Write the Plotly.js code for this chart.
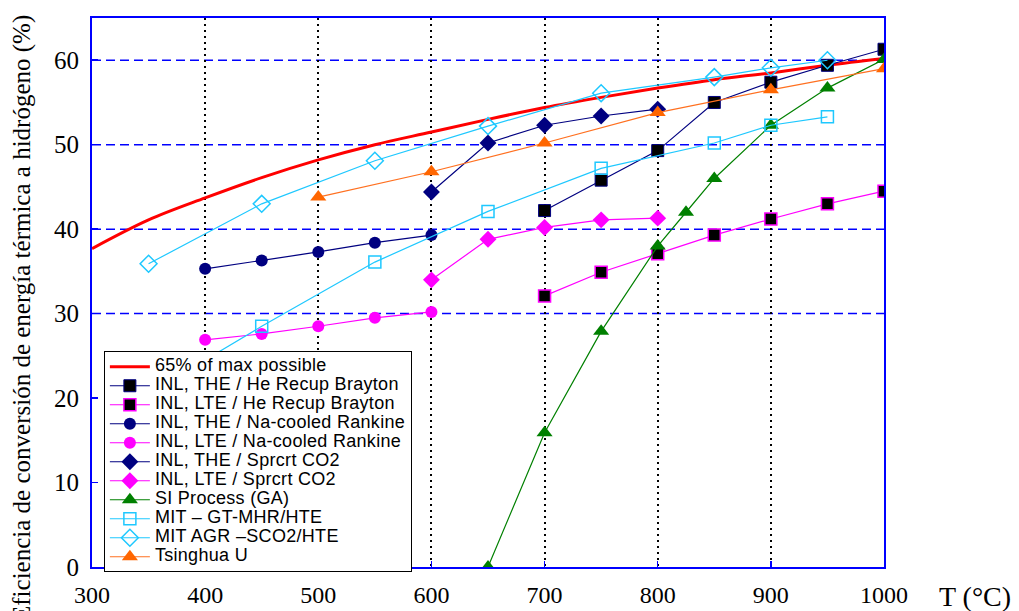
<!DOCTYPE html>
<html>
<head>
<meta charset="utf-8">
<script src="https://cdn.plot.ly/plotly-3.0.1.min.js"></script>
<style>
  html, body { margin: 0; padding: 0; background: #fff; }
  #chart { width: 1019px; height: 611px; }
  .legendtext { font-size: 18px !important; letter-spacing: 0.3px; }
</style>
</head>
<body>
<div id="chart"></div>
<script>
// ---- data ----
const T_max = [300, 350, 400, 450, 500, 550, 600, 650, 700, 750, 800, 850, 900, 950, 1000];
const eff_max = [37.7, 41.1, 43.7, 46.1, 48.2, 50.0, 51.5, 53.0, 54.4, 55.6, 56.7, 57.7, 58.5, 59.4, 60.2];

const T_he = [700, 750, 800, 850, 900, 950, 1000];
const eff_he_the = [42.2, 45.8, 49.3, 55.0, 57.4, 59.4, 61.3];
const eff_he_lte = [32.1, 34.9, 37.1, 39.3, 41.2, 43.0, 44.5];

const T_na = [400, 450, 500, 550, 600];
const eff_na_the = [35.3, 36.3, 37.3, 38.4, 39.3];
const eff_na_lte = [26.9, 27.6, 28.5, 29.5, 30.2];

const T_co2 = [600, 650, 700, 750, 800];
const eff_co2_the = [44.4, 50.2, 52.3, 53.4, 54.2];
const eff_co2_lte = [34.0, 38.8, 40.2, 41.1, 41.3];

const T_si = [650, 700, 750, 800, 825, 850, 900, 950, 1000];
const eff_si = [0, 15.9, 27.9, 38.0, 42.0, 46.0, 52.3, 56.7, 60.1];

const T_mit_gt = [400, 450, 550, 650, 750, 850, 900, 950];
const eff_mit_gt = [24.5, 28.5, 36.1, 42.1, 47.2, 50.2, 52.3, 53.3];

const T_mit_agr = [350, 450, 550, 650, 750, 850, 900, 950];
const eff_mit_agr = [35.9, 43.0, 48.1, 52.2, 56.1, 58.0, 59.1, 60.0];

const T_tsing = [500, 600, 700, 800, 900, 1000];
const eff_tsing = [43.8, 46.8, 50.2, 53.8, 56.5, 59.0];

const xTicks = [300, 400, 500, 600, 700, 800, 900, 1000];
const yTicks = [0, 10, 20, 30, 40, 50, 60];
const yDashed = [30, 40, 50, 60];

const names = [
  '65% of max possible',
  'INL, THE / He Recup Brayton',
  'INL, LTE / He Recup Brayton',
  'INL, THE / Na-cooled Rankine',
  'INL, LTE / Na-cooled Rankine',
  'INL, THE / Sprcrt CO2',
  'INL, LTE / Sprcrt CO2',
  'SI Process (GA)',
  'MIT \u2013 GT-MHR/HTE',
  'MIT AGR \u2013SCO2/HTE',
  'Tsinghua U'
];

const NAVY = '#000080', MAG = '#ff00ff', GREEN = '#008000', CYAN = '#1ec8ff', ORANGE = '#ff7020', RED = '#ff0000';

function tr(x, y, name, lineColor, lw, marker, mode) {
  return { x: x, y: y, name: name, type: 'scatter', mode: mode || 'lines+markers',
           line: { color: lineColor, width: lw }, marker: marker };
}

const traces = [
  { x: T_max, y: eff_max, name: names[0], type: 'scatter', mode: 'lines',
    line: { color: RED, width: 3, shape: 'spline' } },
  tr(T_he, eff_he_the, names[1], NAVY, 1.2, { symbol: 'square', size: 12, color: '#000000', line: { color: NAVY, width: 1 } }),
  tr(T_he, eff_he_lte, names[2], MAG, 1.2, { symbol: 'square', size: 12, color: '#000000', line: { color: MAG, width: 1.5 } }),
  tr(T_na, eff_na_the, names[3], NAVY, 1.2, { symbol: 'circle', size: 12, color: NAVY }),
  tr(T_na, eff_na_lte, names[4], MAG, 1.2, { symbol: 'circle', size: 12, color: MAG }),
  tr(T_co2, eff_co2_the, names[5], NAVY, 1.2, { symbol: 'diamond', size: 13, color: NAVY }),
  tr(T_co2, eff_co2_lte, names[6], MAG, 1.2, { symbol: 'diamond', size: 13, color: MAG }),
  tr(T_si, eff_si, names[7], GREEN, 1.2, { symbol: 'triangle-up', size: 14, color: GREEN }),
  tr(T_mit_gt, eff_mit_gt, names[8], CYAN, 1.2, { symbol: 'square-open', size: 12, color: CYAN, line: { color: CYAN, width: 1.5 } }),
  tr(T_mit_agr, eff_mit_agr, names[9], CYAN, 1.2, { symbol: 'diamond-open', size: 13, color: CYAN, line: { color: CYAN, width: 1.5 } }),
  tr(T_tsing, eff_tsing, names[10], ORANGE, 1.2, { symbol: 'triangle-up', size: 14, color: '#ff6600' })
];

const shapes = yDashed.map(v => ({
  type: 'line', xref: 'x', yref: 'y', x0: 300, x1: 1000, y0: v, y1: v, layer: 'below',
  line: { color: '#0000ff', width: 1.5, dash: '9px,5px' }
}));

const serif = 'Liberation Serif, Times New Roman, serif';

const layout = {
  width: 1019, height: 611,
  margin: { l: 92, r: 135, t: 18, b: 44 },
  paper_bgcolor: '#ffffff', plot_bgcolor: '#ffffff',
  showlegend: true,
  xaxis: {
    range: [300, 1000], tickvals: xTicks, ticktext: xTicks.map(String),
    showgrid: true, gridcolor: '#000000', gridwidth: 2, griddash: '2px,4px',
    zeroline: false, showline: true, linecolor: '#0000ff', linewidth: 2, mirror: true,
    ticks: 'inside', ticklen: 6, tickcolor: '#0000ff', tickwidth: 1.5,
    ticklabelstandoff: 5,
    tickfont: { family: serif, size: 24, color: '#000000' }
  },
  yaxis: {
    range: [0, 65], tickvals: yTicks, ticktext: yTicks.map(String),
    showgrid: false, zeroline: false, showline: true, linecolor: '#0000ff', linewidth: 2, mirror: true,
    ticks: 'inside', ticklen: 6, tickcolor: '#0000ff', tickwidth: 1.5,
    ticklabelstandoff: 6,
    tickfont: { family: serif, size: 25, color: '#000000' }
  },
  legend: {
    x: 0.015, y: 0.393, xanchor: 'left', yanchor: 'top',
    bgcolor: '#ffffff', bordercolor: '#000000', borderwidth: 1,
    font: { family: 'Liberation Sans, Arial, sans-serif', size: 12, color: '#000000' },
    itemwidth: 40, tracegroupgap: 0
  },
  shapes: shapes,
  annotations: [
    { text: 'Eficiencia de conversión de energía térmica a hidrógeno (%)',
      xref: 'paper', yref: 'paper', x: 0, xshift: -70, y: 0.4536, textangle: -90,
      showarrow: false, xanchor: 'center', yanchor: 'middle',
      font: { family: serif, size: 25, color: '#000000' } },
    { text: 'T (°C)', xref: 'paper', yref: 'paper', x: 1, xshift: 91, y: 0, yshift: -29,
      showarrow: false, xanchor: 'center', yanchor: 'middle',
      font: { family: serif, size: 28, color: '#000000' } }
  ]
};

Plotly.newPlot('chart', traces, layout, { displayModeBar: false, staticPlot: true });
</script>
</body>
</html>
